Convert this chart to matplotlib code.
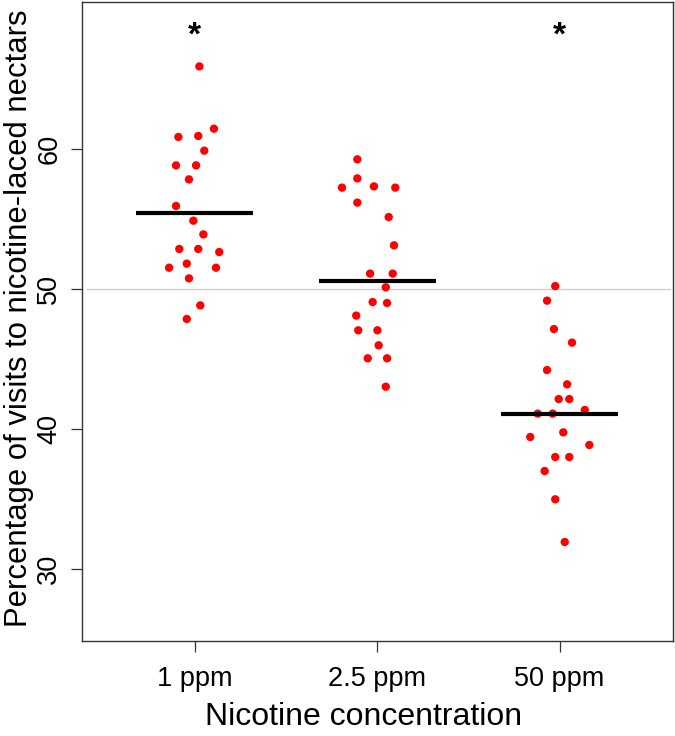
import matplotlib
matplotlib.use("Agg")
import matplotlib.pyplot as plt
import numpy as np

plt.rcParams['font.family'] = ['Liberation Sans', 'DejaVu Sans']

categories = ["1 ppm", "2.5 ppm", "50 ppm"]

vals_1ppm = [65.9, 61.45, 60.86, 60.93, 59.88, 58.83, 58.83, 57.83, 55.93, 54.88,
             53.9, 52.86, 52.86, 52.64, 51.52, 51.81, 51.52, 50.76, 48.83, 47.86]
jit_1ppm = [0.025, 0.105, -0.09, 0.019, 0.052, -0.103, 0.007, -0.032, -0.103, -0.008,
            0.047, -0.085, 0.019, 0.134, -0.141, -0.044, 0.116, -0.032, 0.03, -0.044]

vals_25ppm = [59.26, 57.9, 57.24, 57.33, 57.24, 56.17, 55.14, 53.12, 51.1, 51.1,
              50.12, 49.07, 49.0, 48.1, 47.05, 47.05, 45.98, 45.05, 45.05, 43.02]
jit_25ppm = [-0.109, -0.109, -0.193, -0.018, 0.099, -0.109, 0.063, 0.092, -0.039, 0.085,
             0.047, -0.025, 0.054, -0.115, -0.104, 0.001, 0.008, -0.052, 0.054, 0.047]

vals_50ppm = [50.21, 49.17, 47.14, 46.17, 44.21, 43.19, 42.14, 42.14, 41.36, 41.1,
              41.1, 39.76, 39.43, 38.86, 38.0, 38.0, 37.0, 34.98, 31.93]
jit_50ppm = [-0.024, -0.069, -0.031, 0.068, -0.069, 0.041, -0.005, 0.053, 0.138, -0.12,
             -0.038, 0.02, -0.161, 0.163, -0.024, 0.053, -0.082, -0.024, 0.028]

group_lines = [55.4, 50.6, 41.1]
significant = [True, False, True]
reference_level = 50
yticks = [30, 40, 50, 60]

fig = plt.figure(figsize=(6.75, 7.36), dpi=100)
ax = fig.add_axes([81.7/675, (736-640.7)/736, 591/675, 639/736])

groups = [(vals_1ppm, jit_1ppm), (vals_25ppm, jit_25ppm), (vals_50ppm, jit_50ppm)]
ax.axhline(reference_level, xmin=0.0085, xmax=0.995, color='#cccccc', lw=0.9, zorder=1)
for i, (v, j) in enumerate(groups):
    pos = i + 1
    ax.scatter(pos + np.array(j), v, s=36, color='#ff0000', edgecolors='none', zorder=3)
    ax.plot([pos - 0.32, pos + 0.32], [group_lines[i], group_lines[i]],
            color='black', lw=3.0, solid_capstyle='butt', zorder=4)
    if significant[i]:
        ax.text(pos, 68.1, "*", ha='center', va='center', fontsize=24,
                fontweight='bold', color='black')

ax.set_xlim(0.38, 3.62)
ax.set_ylim(24.88, 70.52)
ax.set_xticks([1, 2, 3])
ax.set_xticklabels(categories, fontsize=19.5)
ax.set_yticks(yticks)
ax.set_yticklabels([str(t) for t in yticks], fontsize=19.5, rotation=90, va='center')
ax.tick_params(axis='both', length=8, width=0.9, color='#333333')
ax.tick_params(axis='y', pad=6)
ax.tick_params(axis='x', pad=10)
for s in ax.spines.values():
    s.set_color('#333333')
    s.set_linewidth(1.0)

fig.text(0.5 * (206 + 522) / 675, 1 - 717 / 736, "Nicotine concentration",
         fontsize=23, ha='center', va='center')
fig.text(19 / 675, 1 - 318 / 736, "Percentage of visits to nicotine-laced nectars",
         fontsize=22.3, ha='center', va='center', rotation=90)

fig.savefig("out.png", dpi=100)
